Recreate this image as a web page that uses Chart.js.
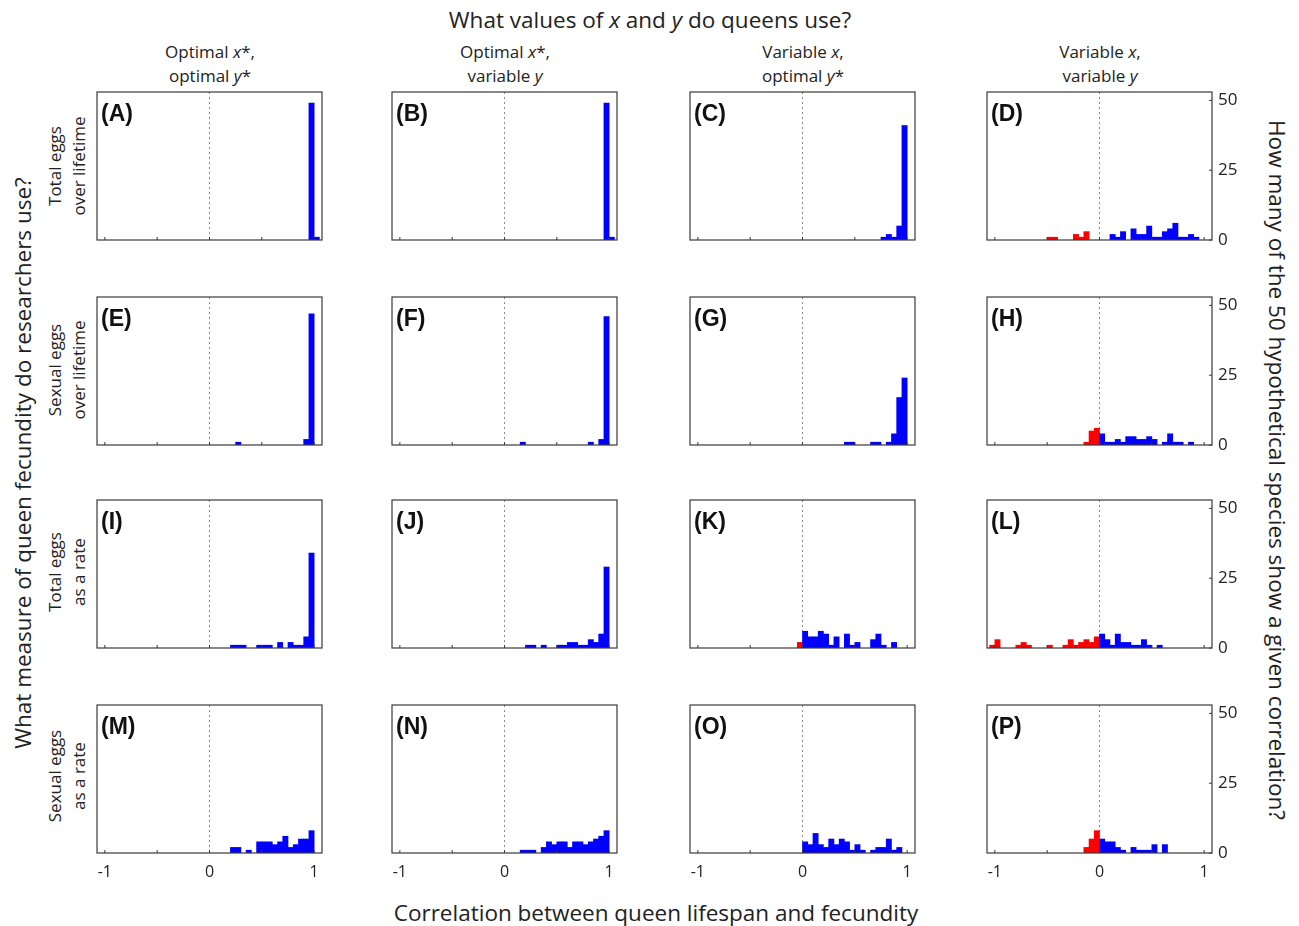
<!DOCTYPE html>
<html>
<head>
<meta charset="utf-8">
<script src="https://cdn.jsdelivr.net/npm/chart.js@4.4.0/dist/chart.umd.min.js"></script>
<style>
    body { margin: 0; width: 1299px; height: 926px; position: relative; overflow: hidden;
           background: #fff; font-family: 'Open Sans', sans-serif; color: #222; }
    .txt { position: absolute; white-space: nowrap; transform-origin: center center; }
    .big { font-size: 22.5px; }
    .mid { font-size: 17px; line-height: 24px; text-align: center; }
    canvas { position: absolute; }
</style>
</head>
<body>

<div class="txt big" id="title" style="left:650px; top:19px;">What values of <i>x</i> and <i>y</i> do queens use?</div>
<div class="txt big" id="xTitle" style="left:656px; top:912px;">Correlation between queen lifespan and fecundity</div>
<div class="txt big" style="left:22px; top:463px; transform:translate(-50%,-50%) rotate(-90deg);">What measure of queen fecundity do researchers use?</div>
<div class="txt big" style="left:1277px; top:470px; transform:translate(-50%,-50%) rotate(90deg);">How many of the 50 hypothetical species show a given correlation?</div>

<div class="txt mid" style="left:210px; top:64px;">Optimal <i>x</i>*,<br>optimal <i>y</i>*</div>
<div class="txt mid" style="left:505px; top:64px;">Optimal <i>x</i>*,<br>variable <i>y</i></div>
<div class="txt mid" style="left:803px; top:64px;">Variable <i>x</i>,<br>optimal <i>y</i>*</div>
<div class="txt mid" style="left:1100px; top:64px;">Variable <i>x</i>,<br>variable <i>y</i></div>

<div class="txt mid" style="left:67px; top:166px; transform:translate(-50%,-50%) rotate(-90deg);">Total eggs<br>over lifetime</div>
<div class="txt mid" style="left:67px; top:370px; transform:translate(-50%,-50%) rotate(-90deg);">Sexual eggs<br>over lifetime</div>
<div class="txt mid" style="left:67px; top:572px; transform:translate(-50%,-50%) rotate(-90deg);">Total eggs<br>as a rate</div>
<div class="txt mid" style="left:67px; top:776px; transform:translate(-50%,-50%) rotate(-90deg);">Sexual eggs<br>as a rate</div>

<script>
// ---- Data: [left edge of 0.05-wide bin, number of species] ----
const countsA = [[0.95, 49], [1.0, 1]];
const countsB = [[0.95, 49], [1.0, 1]];
const countsC = [[0.75, 1], [0.8, 2], [0.85, 1], [0.9, 5], [0.95, 41]];
const countsD = [[-0.5, 1], [-0.45, 1], [-0.25, 2], [-0.2, 1], [-0.15, 3],
                 [0.1, 2], [0.15, 1], [0.2, 3], [0.3, 4], [0.35, 2], [0.4, 2], [0.45, 5],
                 [0.5, 1], [0.55, 1], [0.6, 3], [0.65, 4], [0.7, 6], [0.75, 1], [0.8, 1],
                 [0.85, 2], [0.9, 1]];
const countsE = [[0.25, 1], [0.9, 2], [0.95, 47]];
const countsF = [[0.15, 1], [0.8, 1], [0.9, 2], [0.95, 46]];
const countsG = [[0.4, 1], [0.45, 1], [0.65, 1], [0.7, 1], [0.8, 1], [0.85, 4], [0.9, 17], [0.95, 24]];
const countsH = [[-0.15, 1], [-0.1, 5], [-0.05, 6],
                 [0, 4], [0.05, 1], [0.1, 1], [0.15, 2], [0.2, 1], [0.25, 3], [0.3, 3],
                 [0.35, 2], [0.4, 2], [0.45, 3], [0.5, 2], [0.6, 1], [0.65, 4], [0.7, 1],
                 [0.75, 1], [0.85, 1]];
const countsI = [[0.2, 1], [0.25, 1], [0.3, 1], [0.45, 1], [0.5, 1], [0.55, 1], [0.65, 2],
                 [0.75, 2], [0.8, 1], [0.85, 1], [0.9, 4], [0.95, 34]];
const countsJ = [[0.2, 1], [0.25, 1], [0.35, 1], [0.5, 1], [0.55, 1], [0.6, 2], [0.65, 2],
                 [0.7, 1], [0.75, 1], [0.8, 3], [0.85, 2], [0.9, 5], [0.95, 29]];
const countsK = [[-0.05, 2],
                 [0, 6], [0.05, 4], [0.1, 4], [0.15, 6], [0.2, 5], [0.25, 1], [0.3, 4],
                 [0.4, 5], [0.45, 1], [0.5, 2], [0.65, 3], [0.7, 5], [0.75, 1], [0.85, 2]];
const countsL = [[-1.05, 1], [-1.0, 3], [-0.8, 1], [-0.75, 2], [-0.7, 1], [-0.5, 1],
                 [-0.35, 1], [-0.3, 3], [-0.25, 1], [-0.2, 2], [-0.15, 3], [-0.1, 2], [-0.05, 4],
                 [0, 5], [0.05, 3], [0.1, 1], [0.15, 5], [0.2, 2], [0.25, 2], [0.3, 1],
                 [0.35, 1], [0.4, 3], [0.45, 1], [0.55, 1]];
const countsM = [[0.2, 2], [0.25, 2], [0.35, 1], [0.45, 4], [0.5, 4], [0.55, 4], [0.6, 3],
                 [0.65, 4], [0.7, 6], [0.75, 2], [0.8, 3], [0.85, 5], [0.9, 5], [0.95, 8]];
const countsN = [[0.15, 1], [0.2, 1], [0.25, 1], [0.35, 2], [0.4, 4], [0.45, 3], [0.5, 4],
                 [0.55, 4], [0.6, 2], [0.65, 4], [0.7, 4], [0.75, 3], [0.8, 4], [0.85, 5],
                 [0.9, 6], [0.95, 8]];
const countsO = [[0, 4], [0.05, 3], [0.1, 7], [0.15, 3], [0.2, 2], [0.25, 5], [0.3, 3],
                 [0.35, 5], [0.4, 4], [0.45, 1], [0.5, 3], [0.55, 1], [0.65, 1], [0.7, 2],
                 [0.75, 2], [0.8, 5], [0.85, 1], [0.9, 2]];
const countsP = [[-0.15, 2], [-0.1, 5], [-0.05, 8],
                 [0, 5], [0.05, 4], [0.1, 4], [0.15, 2], [0.2, 1], [0.3, 2], [0.35, 1],
                 [0.4, 1], [0.45, 1], [0.5, 3], [0.6, 3]];

const panelLetters = ['A', 'B', 'C', 'D', 'E', 'F', 'G', 'H', 'I', 'J', 'K', 'L', 'M', 'N', 'O', 'P'];
const panelCounts = [countsA, countsB, countsC, countsD, countsE, countsF, countsG, countsH,
                     countsI, countsJ, countsK, countsL, countsM, countsN, countsO, countsP];

const xTicks = [-1, -0.5, 0, 0.5, 1];
const xTickLabels = { '-1': '-1', '0': '0', '1': '1' };
const yTicks = [0, 25, 50];
const binWidth = 0.05;
const firstEdge = -1.05, lastEdge = 1.0;

// ---- Layout ----
const colLeft = [97, 392, 690, 987];
const rowTop = [92, 297, 500, 705];
const frameW = 225, frameH = 148;
const padL = 20, padT = 20, axisR = 60, axisB = 45;

const BLUE = '#0000ff';
const RED = '#ff0000';
const FRAME = '#3a3a3a';

function fullBins(counts) {
    const lookup = {};
    counts.forEach(([edge, n]) => { lookup[edge.toFixed(2)] = n; });
    const out = [];
    for (let e = firstEdge; e <= lastEdge + 1e-9; e += binWidth) {
        const key = (Math.round(e * 100) / 100).toFixed(2);
        out.push({ x: +(+key + binWidth / 2).toFixed(3), y: lookup[key] || 0 });
    }
    return out;
}

// frame box, inward tick marks and panel letter
const framePlugin = {
    id: 'frameBox',
    afterDraw(chart, args, opts) {
        const { ctx, chartArea: a, scales } = chart;
        ctx.save();
        ctx.strokeStyle = FRAME;
        ctx.lineWidth = 1.2;
        ctx.strokeRect(a.left, a.top, a.right - a.left, a.bottom - a.top);
        ctx.lineWidth = 1;
        xTicks.forEach(v => {
            const px = scales.x.getPixelForValue(v);
            ctx.beginPath(); ctx.moveTo(px, a.bottom); ctx.lineTo(px, a.bottom - 3); ctx.stroke();
        });
        if (opts.rightTicks) {
            yTicks.forEach(v => {
                const py = scales.y.getPixelForValue(v);
                ctx.beginPath(); ctx.moveTo(a.right, py); ctx.lineTo(a.right - 3, py); ctx.stroke();
            });
        }
        ctx.fillStyle = '#111';
        ctx.font = 'bold 23px "Liberation Sans", Arial, sans-serif';
        ctx.textBaseline = 'middle';
        ctx.fillText('(' + opts.letter + ')', a.left + 4, a.top + 23);
        ctx.restore();
    }
};

panelCounts.forEach((counts, i) => {
    const row = Math.floor(i / 4), col = i % 4;
    const canvas = document.createElement('canvas');
    const w = frameW + padL + axisR, h = frameH + padT + axisB;
    canvas.width = w; canvas.height = h;
    canvas.style.width = w + 'px'; canvas.style.height = h + 'px';
    canvas.style.left = (colLeft[col] - padL) + 'px';
    canvas.style.top = (rowTop[row] - padT) + 'px';
    document.body.appendChild(canvas);

    const isBottom = row === 3, isRight = col === 3;

    new Chart(canvas, {
        type: 'bar',
        data: {
            datasets: [{
                data: fullBins(counts),
                backgroundColor: (c) => {
                    if (!c.raw || c.raw.y === 0) return 'rgba(0,0,0,0)';
                    return c.raw.x < 0 ? RED : BLUE;
                },
                borderWidth: 0,
                barPercentage: 1,
                categoryPercentage: 1,
            }],
        },
        options: {
            responsive: false,
            animation: false,
            devicePixelRatio: 1,
            layout: { padding: { left: padL, top: padT, right: 0, bottom: 0 } },
            plugins: {
                legend: { display: false },
                tooltip: { enabled: false },
                frameBox: { letter: panelLetters[i], rightTicks: isRight },
            },
            scales: {
                x: {
                    type: 'linear',
                    min: -1.075,
                    max: 1.075,
                    offset: false,
                    afterBuildTicks: (s) => { s.ticks = xTicks.map(v => ({ value: v })); },
                    afterFit: (s) => { s.height = axisB; },
                    grid: {
                        offset: false,
                        drawTicks: false,
                        lineWidth: 1,
                        color: (c) => (c.tick && c.tick.value === 0 ? '#8a8a8a' : 'rgba(0,0,0,0)'),
                    },
                    border: { display: false, dash: [2, 3] },
                    ticks: {
                        display: isBottom,
                        autoSkip: false,
                        maxRotation: 0,
                        padding: 10,
                        color: '#222',
                        font: { family: "'Open Sans', sans-serif", size: 16 },
                        callback: (v) => xTickLabels[String(v)] || '',
                    },
                },
                y: {
                    position: 'right',
                    min: 0,
                    max: 53,
                    afterBuildTicks: (s) => { s.ticks = yTicks.map(v => ({ value: v })); },
                    afterFit: (s) => { s.width = axisR; },
                    grid: { display: false, drawTicks: false },
                    border: { display: false },
                    ticks: {
                        display: isRight,
                        padding: 6,
                        color: '#222',
                        font: { family: "'Open Sans', sans-serif", size: 17 },
                    },
                },
            },
        },
        plugins: [framePlugin],
    });
});

// centre the plain text labels on their anchor points
document.querySelectorAll('.txt').forEach(el => {
    if (!el.style.transform) el.style.transform = 'translate(-50%,-50%)';
});
</script>
</body>
</html>
